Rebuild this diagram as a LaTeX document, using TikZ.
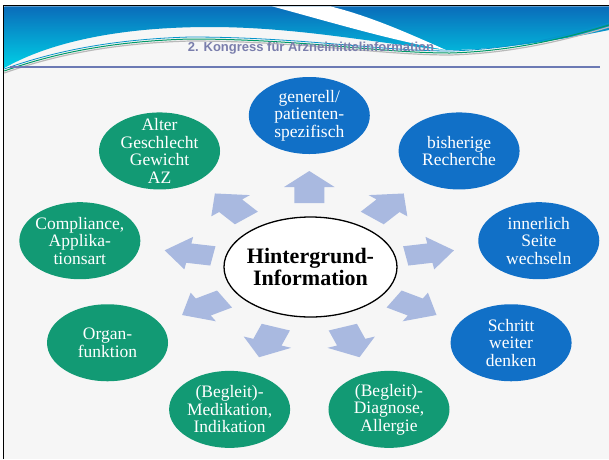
\documentclass[tikz,border=0pt]{standalone}
\usepackage{fontspec}
\setmainfont{Liberation Serif}
\newfontfamily\headfont{Liberation Sans}
\usetikzlibrary{shapes.geometric,positioning}

\definecolor{slidebg}{RGB}{246,246,246}
\definecolor{hdrdeep}{RGB}{10,108,186}
\definecolor{hdrcyan}{RGB}{0,208,230}
\definecolor{rulecol}{RGB}{108,122,180}
\definecolor{titlecol}{RGB}{122,126,172}
\definecolor{nodeblue}{RGB}{17,112,199}
\definecolor{nodegreen}{RGB}{18,154,116}
\definecolor{spokecol}{RGB}{169,185,224}

\tikzset{
  blob/.style={ellipse, minimum width=121pt, minimum height=77pt, inner sep=-8pt,
    align=center, text=white, font=\fontsize{17.5}{17.5}\selectfont},
  blueblob/.style={blob, fill=nodeblue},
  greenblob/.style={blob, fill=nodegreen},
  hub/.style={ellipse, draw=black, line width=1.3pt, fill=white, minimum width=173pt,
    minimum height=100pt, inner sep=-4pt, align=center,
    font=\bfseries\fontsize{22}{22}\selectfont},
  spoke/.style={fill=spokecol}
}

\begin{document}
\begin{tikzpicture}[x=1pt,y=-1pt]
  \def\cx{309.3}
  \def\cy{267}
  \def\ra{233}
  \def\rb{151.5}
  \def\sx{1.53}

  % Fixed bounding box
  \path[use as bounding box] (0,0) rectangle (609,459);

  % Slide background and frame
  \fill[slidebg] (4,6) rectangle (609,459);
  \draw[line width=1.6pt, black] (3.5,459) -- (3.5,5.5) -- (609,5.5);

  % Header wave
  \shade[top color=hdrdeep, bottom color=hdrcyan]
    (4.3,6.3) -- (609,6.3) -- (609,30)
    .. controls (560,40) and (500,50) .. (446,50)
    .. controls (380,44) and (300,27) .. (210,27)
    .. controls (120,27) and (50,42) .. (4.3,68) -- cycle;
  \fill[white] (272,6.3) .. controls (330,22) and (390,40) .. (446,50)
    .. controls (410,34) and (370,16) .. (330,6.3) -- cycle;
  \draw[gray!55, line width=1.2pt] (4.3,73) .. controls (60,53) and (120,43) .. (190,41)
    .. controls (300,41) and (380,55) .. (450,55) .. controls (520,53) and (575,37) .. (609,27);
  \draw[teal!80!green, line width=1pt] (4.3,71) .. controls (60,51) and (120,41) .. (190,39)
    .. controls (300,39) and (380,53) .. (450,53) .. controls (520,51) and (575,35) .. (609,25);
  \draw[hdrdeep!60!hdrcyan, line width=0.8pt] (4.3,69) .. controls (60,49) and (120,39) .. (190,37)
    .. controls (300,37) and (380,51) .. (450,51) .. controls (520,49) and (575,33) .. (609,23);

  % Title and rule
  \node[font=\headfont\bfseries\fontsize{13}{13}\selectfont, text=titlecol] (title)
    at (311,48.5) {2. Kongress für Arzneimittelinformation};
  \draw[rulecol, line width=2.6pt] (10,67) -- (600,67);

  % Block arrows pointing out from the hub
  \begin{scope}[shift={(\cx,\cy)}, xscale=\sx]
    \foreach \ang in {90,50,...,-230} {
      \fill[spoke, rotate=\ang] (64,-9.8) -- (80,-9.8) -- (80,-16.5) -- (96,0)
        -- (80,16.5) -- (80,9.8) -- (64,9.8) -- cycle;
    }
  \end{scope}

  % Hub
  \node[hub] (hub) at (310.5,\cy) {Hintergrund-\\Information};

  % Outer ring, blue half
  \node[blueblob] (generell) at ({\cx+\ra*cos(90)},{\cy-\rb*sin(90)})
    {generell/\\patienten-\\spezifisch};
  \node[blueblob] (recherche) at ({\cx+\ra*cos(50)},{\cy-\rb*sin(50)})
    {bisherige\\Recherche};
  \node[blueblob] (seite) at ({\cx+\ra*cos(10)},{\cy-\rb*sin(10)})
    {innerlich\\Seite\\wechseln};
  \node[blueblob] (schritt) at ({\cx+\ra*cos(-30)},{\cy-\rb*sin(-30)})
    {Schritt\\weiter\\denken};

  % Outer ring, green half
  \node[greenblob] (diagnose) at ({\cx+\ra*cos(-70)},{\cy-\rb*sin(-70)})
    {(Begleit)-\\Diagnose,\\Allergie};
  \node[greenblob] (medikation) at ({\cx+\ra*cos(-110)},{\cy-\rb*sin(-110)})
    {(Begleit)-\\Medikation,\\Indikation};
  \node[greenblob] (organ) at ({\cx+\ra*cos(-150)},{\cy-\rb*sin(-150)})
    {Organ-\\funktion};
  \node[greenblob] (compliance) at ({\cx+\ra*cos(170)},{\cy-\rb*sin(170)})
    {Compliance,\\Applika-\\tionsart};
  \node[greenblob] (alter) at ({\cx+\ra*cos(130)},{\cy-\rb*sin(130)})
    {Alter\\Geschlecht\\Gewicht\\AZ};

\end{tikzpicture}
\end{document}
